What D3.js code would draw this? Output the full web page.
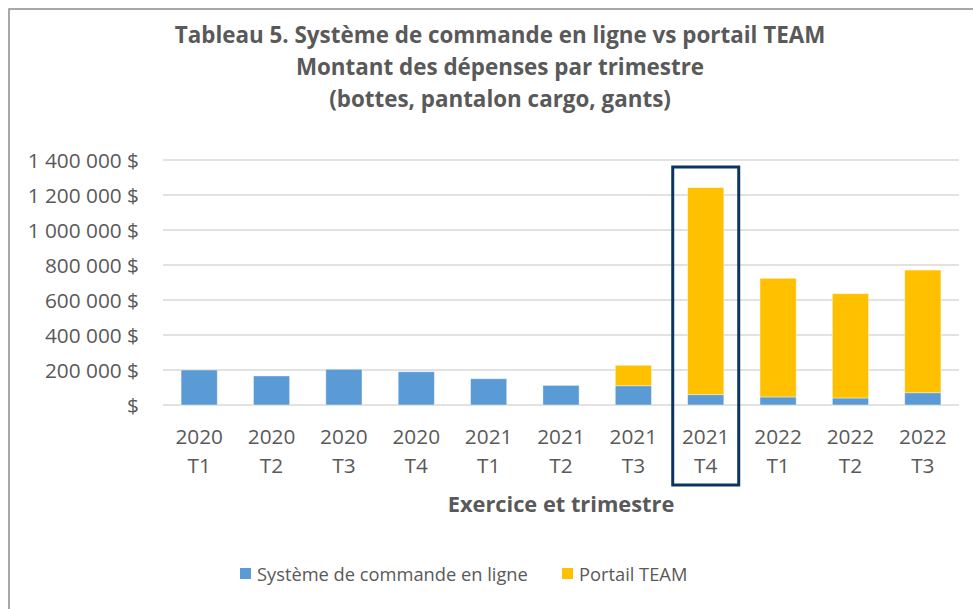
<!DOCTYPE html>
<html>
<head>
<meta charset="utf-8">
<script src="https://cdn.jsdelivr.net/npm/d3@7"></script>
<style>
  body { margin: 0; background: #fff; }
  svg text { font-family: "Open Sans", sans-serif; }
</style>
</head>
<body>
<svg id="chart" width="973" height="609"></svg>
<script>
// data
const years = ['2020', '2020', '2020', '2020', '2021', '2021', '2021', '2021', '2022', '2022', '2022'];
const quarters = ['T1', 'T2', 'T3', 'T4', 'T1', 'T2', 'T3', 'T4', 'T1', 'T2', 'T3'];
const enLigne = [200000, 166000, 204000, 190000, 150000, 112000, 110000, 59000, 46000, 40000, 70000];
const team = [0, 0, 0, 0, 0, 0, 117000, 1183000, 678000, 596000, 701000];
const yTicks = [0, 200000, 400000, 600000, 800000, 1000000, 1200000, 1400000];
const titleLines = ['Tableau 5. Système de commande en ligne vs portail TEAM',
  'Montant des dépenses par trimestre', '(bottes, pantalon cargo, gants)'];
const seriesNames = ['Système de commande en ligne', 'Portail TEAM'];
const colors = ['#5b9bd5', '#ffc000'];
const highlight = 7; // 2021 T4

var svg = d3.select('#chart');
var textCol = '#595959';

// outer frame (runs off the picture at right/bottom)
svg.append('rect')
  .attr('x', 9).attr('y', 9)
  .attr('width', 1000).attr('height', 700)
  .attr('fill', 'none')
  .attr('stroke', '#8c8c8c')
  .attr('stroke-width', 1.5);

var pLeft = 163, pRight = 959, pTop = 160, pBottom = 405;

var cats = years.map(function(y, i) { return i; });
var x = d3.scaleBand().domain(cats).range([pLeft, pRight]).paddingInner(0.5).paddingOuter(0.25);
var y = d3.scaleLinear().domain([0, 1400000]).range([pBottom, pTop]);

// gridlines
svg.append('g')
  .selectAll('line')
  .data(yTicks)
  .enter().append('line')
  .attr('x1', pLeft).attr('x2', pRight)
  .attr('y1', function(d) { return y(d); })
  .attr('y2', function(d) { return y(d); })
  .attr('stroke', '#d9d9d9')
  .attr('stroke-width', 1.3);

// y labels
function fmt(v) {
  if (v == 0) return '$';
  return d3.format(',')(v).replace(/,/g, ' ') + ' $';
}
var yAxis = svg.append('g')
  .attr('transform', 'translate(' + (pLeft - 24) + ',0)')
  .call(d3.axisLeft(y).tickValues(yTicks).tickFormat(fmt).tickSize(0).tickPadding(0));
yAxis.select('.domain').remove();
yAxis.selectAll('text')
  .attr('fill', textCol)
  .style('font-family', '"Open Sans", sans-serif')
  .style('font-size', '20.8px')
  .attr('dy', '0.36em');

// stacked bars
var stack = d3.stack().keys([0, 1]).value(function(d, k) { return d[k]; });
var rows = cats.map(function(i) { return [enLigne[i], team[i]]; });
var layers = stack(rows);

svg.append('g')
  .selectAll('g')
  .data(layers)
  .enter().append('g')
  .attr('fill', function(d, k) { return colors[k]; })
  .selectAll('rect')
  .data(function(d) { return d.map(function(s, i) { return {s: s, i: i}; }); })
  .enter().append('rect')
  .filter(function(d) { return d.s[1] > d.s[0]; })
  .attr('x', function(d) { return x(d.i); })
  .attr('width', x.bandwidth())
  .attr('y', function(d) { return y(d.s[1]); })
  .attr('height', function(d) { return y(d.s[0]) - y(d.s[1]); })
  .attr('stroke', '#fff')
  .attr('stroke-opacity', 0.5)
  .attr('stroke-width', 0.8);

// x labels (two lines)
var xl = svg.append('g');
cats.forEach(function(i) {
  var cx = x(i) + x.bandwidth() / 2;
  var t = xl.append('text')
    .attr('x', cx)
    .attr('y', 444)
    .attr('text-anchor', 'middle')
    .attr('fill', textCol)
    .style('font-size', '20.8px');
  t.append('tspan').attr('x', cx).text(years[i]);
  t.append('tspan').attr('x', cx).attr('dy', 29).text(quarters[i]);
});

// highlight box around 2021 T4
svg.append('rect')
  .attr('x', x(highlight) + x.bandwidth() / 2 - 33)
  .attr('y', 167)
  .attr('width', 66)
  .attr('height', 318)
  .attr('fill', 'none')
  .attr('stroke', '#0c3461')
  .attr('stroke-width', 3);

// axis title
svg.append('text')
  .attr('x', (pLeft + pRight) / 2)
  .attr('y', 512)
  .attr('text-anchor', 'middle')
  .attr('fill', textCol)
  .style('font-size', '21.8px')
  .style('font-weight', 'bold')
  .text('Exercice et trimestre');

// title
svg.append('text')
  .attr('x', 500)
  .attr('y', 43)
  .attr('text-anchor', 'middle')
  .attr('fill', textCol)
  .style('font-size', '22.4px')
  .style('font-weight', 'bold')
  .selectAll('tspan')
  .data(titleLines)
  .enter().append('tspan')
  .attr('x', 500)
  .attr('dy', function(d, i) { return i == 0 ? 0 : 32; })
  .text(function(d) { return d; });

// legend
var legX = [240, 562];
var leg = svg.append('g');
seriesNames.forEach(function(name, k) {
  leg.append('rect')
    .attr('x', legX[k]).attr('y', 568)
    .attr('width', 11).attr('height', 11)
    .attr('fill', colors[k]);
  leg.append('text')
    .attr('x', legX[k] + 17).attr('y', 581)
    .attr('fill', textCol)
    .style('font-size', '18.3px')
    .text(name);
});
</script>
</body>
</html>
